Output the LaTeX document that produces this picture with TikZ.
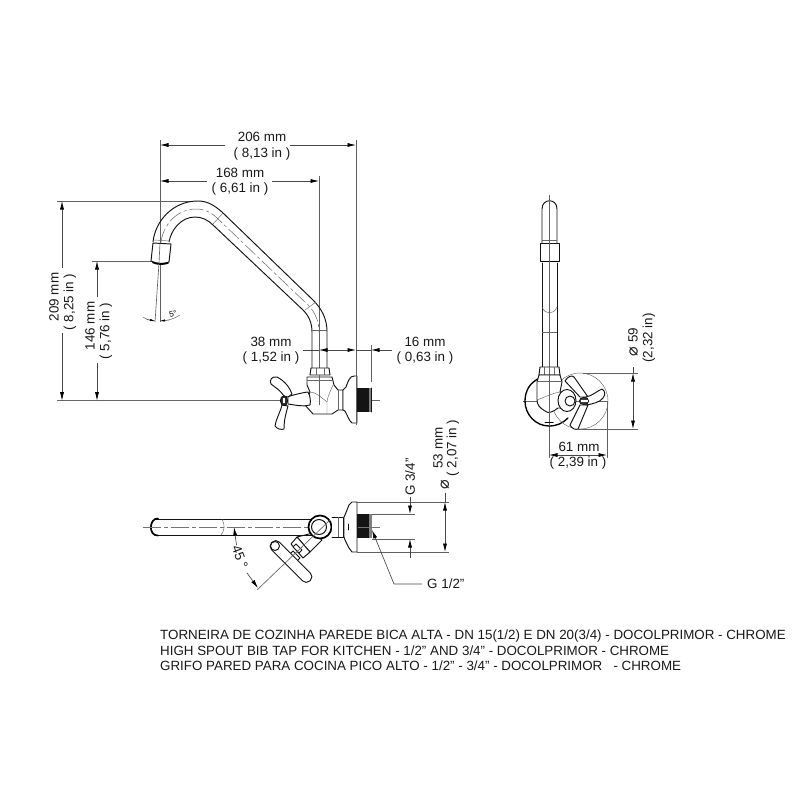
\documentclass[tikz,border=0pt]{standalone}
\usepackage{fontspec}
\setmainfont{Liberation Sans}
\newfontfamily\djv{DejaVu Sans}
\usetikzlibrary{arrows.meta}
\tikzset{
 obj/.style={draw=black!92,line width=0.95pt,line join=round,line cap=round},
 thick obj/.style={draw=black,line width=1.7pt,line cap=round},
 fineobj/.style={draw=black!60,line width=0.45pt},
 ext/.style={draw=black!62,line width=0.65pt},
 dim/.style={draw=black!72,line width=0.65pt},
 tip/.style={-{Latex[length=8.5pt,width=4pt,black]}},
 tipb/.style={{Latex[length=8.5pt,width=4pt,black]}-{Latex[length=8.5pt,width=4pt,black]}},
 axisln/.style={draw=black!55,line width=0.6pt,dash pattern=on 18pt off 3pt on 4pt off 3pt},
 lab/.style={font=\fontsize{13.4}{15}\selectfont,inner sep=0pt,text=black!90},
 vlab/.style={lab,rotate=90},
 title/.style={font=\fontsize{13.36}{15}\selectfont,inner sep=0pt,anchor=west,text=black!90},
}
\begin{document}
\begin{tikzpicture}[x=1pt,y=-1pt]
\useasboundingbox (0,0) rectangle (800,800);
\fill[white] (0,0) rectangle (800,800);

% ---------- FRONT VIEW: extension lines
\draw[ext] (160,140) -- (160,322);
\draw[ext] (356,140) -- (356,425);
\draw[ext] (319,176) -- (319,405);
\draw[ext] (371,345) -- (371,382);
\draw[ext] (57,201) -- (190,201);
\draw[ext] (92,261) -- (154,261);
\draw[ext,draw=black!60] (57,400.7) -- (380,400.7);

% ---------- dimensions, top
\node[lab] (d206) at (262,137) {206 mm};
\node[lab] (d206i) at (262,154) {( 8,13 in )};
\draw[dim,tip] (225,145) -- (160,145);
\draw[dim,tip] (290,145) -- (356,145);
\node[lab] (d168) at (240,173) {168 mm};
\node[lab] (d168i) at (240,189) {( 6,61 in )};
\draw[dim,tip] (207,181) -- (160,181);
\draw[dim,tip] (272,181) -- (319,181);
% left
\node[vlab] (d209) at (54,297) {209 mm};
\node[vlab] (d209i) at (70,302) {( 8,25 in )};
\draw[dim,tip] (62,268) -- (62,201);
\draw[dim,tip] (62,333) -- (62,400.7);
\node[vlab] (d146) at (90,326) {146 mm};
\node[vlab] (d146i) at (106,331) {( 5,76 in )};
\draw[dim,tip] (97,297) -- (97,261);
\draw[dim,tip] (97,363) -- (97,400.7);
% 38 / 16
\node[lab] (d38) at (271,342) {38 mm};
\node[lab] (d38i) at (271,358) {( 1,52 in )};
\node[lab] (d16) at (425,342) {16 mm};
\node[lab] (d16i) at (425,358) {( 0,63 in )};
\draw[dim] (303,350) -- (319,350);
\draw[dim,tipb] (319,350) -- (356,350);
\draw[dim,tip] (392,350) -- (371,350);
\draw[dim] (356,350) -- (371,350);

% ---------- spout
\draw[obj] (153,242) .. controls (155,222) and (172,201) .. (198,201)
   .. controls (207,201) and (214,205) .. (222,212) -- (313,300)
   .. controls (322,309) and (327,319) .. (327,332) -- (327,368);
\draw[obj] (169,242) .. controls (171,230) and (181,217) .. (195,217)
   .. controls (202,217) and (208,220) .. (213,225) -- (303,310)
   .. controls (309,316) and (312,323) .. (312,332) -- (312,368);
\draw[fineobj,line width=.5pt,dash pattern=on 14pt off 3pt on 3pt off 3pt] (161,242) .. controls (163,226) and (176,209) .. (196,209)
   .. controls (204,209) and (211,212) .. (217,218) -- (308,305)
   .. controls (315,312) and (319,321) .. (319,332);
\draw[fineobj] (213,224) -- (223,213);
\draw[fineobj] (305,310) -- (316,302);
\draw[fineobj] (312,330) -- (327,330);
% nozzle
\draw[obj,fill=white] (153,243) -- (171,244) -- (169,262) .. controls (163,264) and (157,264) .. (151,261) -- cycle;
\draw[fineobj] (154,240) -- (170,241);
\draw[thick obj] (153,262.5) .. controls (158,264.5) and (163,264.5) .. (168,263);
\draw[ext] (160,243) -- (159,263);
% 5 degrees
\draw[ext] (159,263) -- (155,322);
\draw[fineobj,line width=.5pt] (143,317) .. controls (147,320) and (152,321) .. (155,321);
\draw[fineobj,line width=.5pt] (160,321) .. controls (167,321) and (174,319) .. (180,315);
\draw[-{Latex[length=5pt,width=2.2pt,black]},fineobj] (146,319) -- (155,321);
\draw[-{Latex[length=5pt,width=2.2pt,black]},fineobj] (169,320) -- (160,321);
\node[font=\fontsize{8}{8}\selectfont,inner sep=0,rotate=15] (d5) at (173,314) {5°};

% ---------- body
\draw[obj,fill=white] (311,368) -- (329,368) -- (330,375) -- (310,375) -- cycle;
\draw[fineobj] (316,368) -- (316,375) (324,368) -- (324,375);
\draw[obj,fill=white] (307,377) -- (332,377) -- (334,385) -- (338,390) -- (343,390) -- (343,410) -- (338,410) -- (332,414) -- (313,414) -- (305,405) -- (310,392) -- (307,385) -- cycle;
\draw[fineobj] (307,380) -- (332,380);
\draw[fineobj] (310,392) .. controls (316,392) and (322,398) .. (327,402);
\draw[fineobj] (333,385) .. controls (330,392) and (327,398) .. (327,402) -- (327,414);
\draw[fineobj] (338,390) -- (338,410);
% handle stem
\draw[obj,fill=white] (308,392) .. controls (300,393) and (294,395) .. (288,396.5) -- (288,404) .. controls (295,405) and (303,407) .. (310,405) .. controls (311,400) and (310,396) .. (308,392) -- cycle;
% wings
\draw[obj,fill=white] (284,396) .. controls (280,390) and (276,388) .. (271,384) .. controls (269,380) and (272,376) .. (277,377) .. controls (285,381) and (290,388) .. (292,394) -- (288,397) -- cycle;
\draw[obj,fill=white] (282,405) .. controls (280,413) and (276,419) .. (275,426) .. controls (277,429) and (281,430) .. (284,429) .. controls (284,420) and (286,413) .. (288,406) -- cycle;
\draw[obj,fill=black!80] (284,400.7) ellipse (3.6 and 4.8);
\draw[fill=white,draw=none] (283,398) rectangle (285,403);
% flange
\draw[obj,fill=white] (343,390) -- (346,387) .. controls (348,381) and (350,376) .. (354,376) -- (357,376) -- (357,423) -- (352,423) .. controls (349,421) and (347,414) .. (345,411) -- (343,410) -- cycle;
\fill[black!92] (357,388) rectangle (369,412);
\fill[black!50] (369,388) rectangle (371,412);
\draw[obj] (371,388) -- (371,412);
\draw[ext] (319,375) -- (319,405);
\draw[ext] (356,376) -- (356,425);

% ---------- SIDE VIEW
\draw[ext] (549,195) -- (549,458);
\draw[ext] (523,401) -- (608,401);
\draw[ext] (607,401) -- (607,458);
\draw[obj] (542,243) -- (542,209) .. controls (542,198) and (557,198) .. (557,209) -- (557,243);
\draw[fineobj] (542,240) -- (557,240);
\draw[obj,fill=white] (540,243) -- (559,243) -- (559,261) -- (540,261) -- cycle;
\draw[thick obj,line width=1pt] (541,261.5) -- (558,261.5);
\draw[obj] (542,263) -- (542,368);
\draw[obj] (557,263) -- (557,368);
\draw[fineobj] (542,332) -- (557,332);
\draw[fineobj] (542,307) .. controls (545,315) and (554,315) .. (557,307);
\draw[ext] (549,195) -- (549,262);
\draw[thick obj,line width=1.35pt] (540,378) .. controls (530,382) and (525,391) .. (525,401) .. controls (525,415) and (536,426) .. (549,426) .. controls (557,426) and (563,423) .. (568,418);
\draw[fineobj] (580,401) circle (28);
\draw[obj,fill=white] (540,367) -- (559,367) -- (560,375) -- (539,375) -- cycle;
\draw[fineobj] (544,367) -- (544,375) (549,367) -- (549,375) (554,367) -- (554,375);
\draw[obj,fill=white] (539,375) -- (560,375) -- (562,382) -- (560,392) -- (566,392) -- (566,408) -- (558,408) .. controls (553,412) and (548,414) .. (545,411) .. controls (540,408) and (537,405) .. (537,400) -- (537,382) -- cycle;
\draw[fineobj] (538,381) -- (561,381);
\draw[fineobj] (537,400) .. controls (545,397) and (553,393) .. (560,392);
\draw[ext] (549,375) -- (549,426);
\draw[thick obj,line width=1pt] (545,422.5) -- (553,422.5);
% valve
\draw[obj,fill=white] (567,400.5) ellipse (9 and 11);
\draw[obj,fill=white] (570,401) circle (5);
\draw[obj,fill=white] (565,381) .. controls (568,376) and (572,375) .. (574,377) -- (588,397) -- (580,397) -- cycle;
\draw[obj,fill=white] (580,405) -- (570,425) .. controls (572,429) and (576,430) .. (578,429) -- (588,405) -- cycle;
\draw[obj,fill=white] (586,397) .. controls (592,396) and (597,391) .. (602,389) .. controls (605,391) and (606,394) .. (603,398) .. controls (600,402) and (593,404) .. (586,405) -- cycle;
\draw[obj,fill=black!75] (584,401) ellipse (4.6 and 3.6);
\draw[draw=none,fill=white] (580.5,400.4) rectangle (587.5,401.6);
% Ø59
\draw[ext] (583,373) -- (638,373);
\draw[ext] (578,429) -- (638,429);
\draw[dim,tipb] (633,373) -- (633,429);
\draw[dim] (633,367) -- (633,373);
\node[vlab] (d59) at (633,342) {{\djv\fontsize{16}{16}\selectfont ⌀} 59};
\node[vlab] (d59i) at (649,338) {(2,32 in)};
% 61
\node[lab] (d61) at (579,447) {61 mm};
\node[lab] (d61i) at (578,463) {( 2,39 in )};
\draw[dim,tip] (570,455) -- (549,455);
\draw[dim,tip] (586,455) -- (607,455);
\draw[dim] (570,455) -- (586,455);

% ---------- BOTTOM VIEW
\draw[ext] (357,502) -- (449,502);
\draw[ext] (357,552) -- (449,552);
\draw[ext] (372,514) -- (415,514);
\draw[ext] (372,539) -- (415,539);
% handle and stem behind tube
\draw[obj,fill=white] (297,537) -- (310,552) -- (322,540) -- (313,533) -- cycle;
\draw[obj,fill=white] (291,544) -- (297,537) -- (310,552) -- (303,558)  -- cycle;
\draw[obj,fill=white] (296,544) -- (302,550) -- (299,553) -- (293,547) -- cycle;
\draw[obj,fill=white] (288,556) -- (293,551) -- (300,558) -- (295,563) -- cycle;
\draw[obj,fill=white,rounded corners=5pt,rotate around={-45:(291,561.5)}] (264,556) rectangle (318,567);
\draw[obj] (275,546) circle (4.5);
% tube
\draw[obj] (156,519) -- (313,519);
\draw[obj] (156,535) -- (313,535);
\draw[thick obj] (158,518.5) .. controls (149,518) and (148,536) .. (158,535.5);
\draw[fineobj] (222,519) .. controls (225,525) and (225,530) .. (221,535);
% axis
\draw[axisln] (143,527) -- (380,527);
% ring
\draw[thick obj,fill=white] (320,527) circle (11.5);
\draw[obj,line width=1pt,fill=white] (319,527) circle (7.5);
\draw[ext] (257,590) -- (330,520);
% flange
\draw[obj,fill=white] (332,517) -- (343,517) -- (343,537) -- (332,537);
\draw[fineobj] (338,517) -- (338,537);
\draw[obj,fill=white] (344,517) -- (345,515) -- (349,505) -- (352,502) -- (357,502) -- (357,552) -- (352,552) -- (349,548) -- (345,540) -- (344,537) -- cycle;
\draw[thick obj,line width=.8pt] (348.5,524) -- (348.5,530);
\fill[black!92] (357,514) rectangle (369,538);
\fill[black!50] (369,514) rectangle (372,538);
\draw[axisln] (358,527) -- (380,527);
% 45 degree dim
\node[lab,rotate=-70] (d45) at (240,557) {45 °};
\draw[dim,tip] (236.5,545) -- (234,527);
\draw[dim,tip] (247,573) -- (258,588);
% G 3/4
\node[vlab] (g34) at (410,477) {G 3/4"};
\draw[dim,tip] (410,497) -- (410,514);
\draw[dim,tip] (410,558) -- (410,539);
% Ø53
\node[vlab] (d53) at (438,448) {53 mm};
\node[vlab] (d53i) at (453,448) {( 2,07 in )};
\node[vlab] (phi53) at (445,485) {\djv\fontsize{16}{16}\selectfont ⌀};
\draw[dim,tipb] (445,502) -- (445,552);
\draw[dim] (445,493) -- (445,502);
% G 1/2
\node[lab,anchor=west] (g12) at (427,584) {G 1/2"};
\draw[dim,tip] (g12.west) ++(-5,0) -- (394,584) -- (372,530);

% ---------- TITLES
\node[title] (t1) at (160,636) {TORNEIRA DE COZINHA PAREDE BICA ALTA - DN 15(1/2) E DN 20(3/4) - DOCOLPRIMOR - CHROME};
\node[title] (t2) at (160,651) {HIGH SPOUT BIB TAP FOR KITCHEN - 1/2" AND 3/4" - DOCOLPRIMOR - CHROME};
\node[title] (t3) at (160,666) {GRIFO PARED PARA COCINA PICO ALTO - 1/2" - 3/4" - DOCOLPRIMOR\ \ \ - CHROME};
\end{tikzpicture}
\end{document}
